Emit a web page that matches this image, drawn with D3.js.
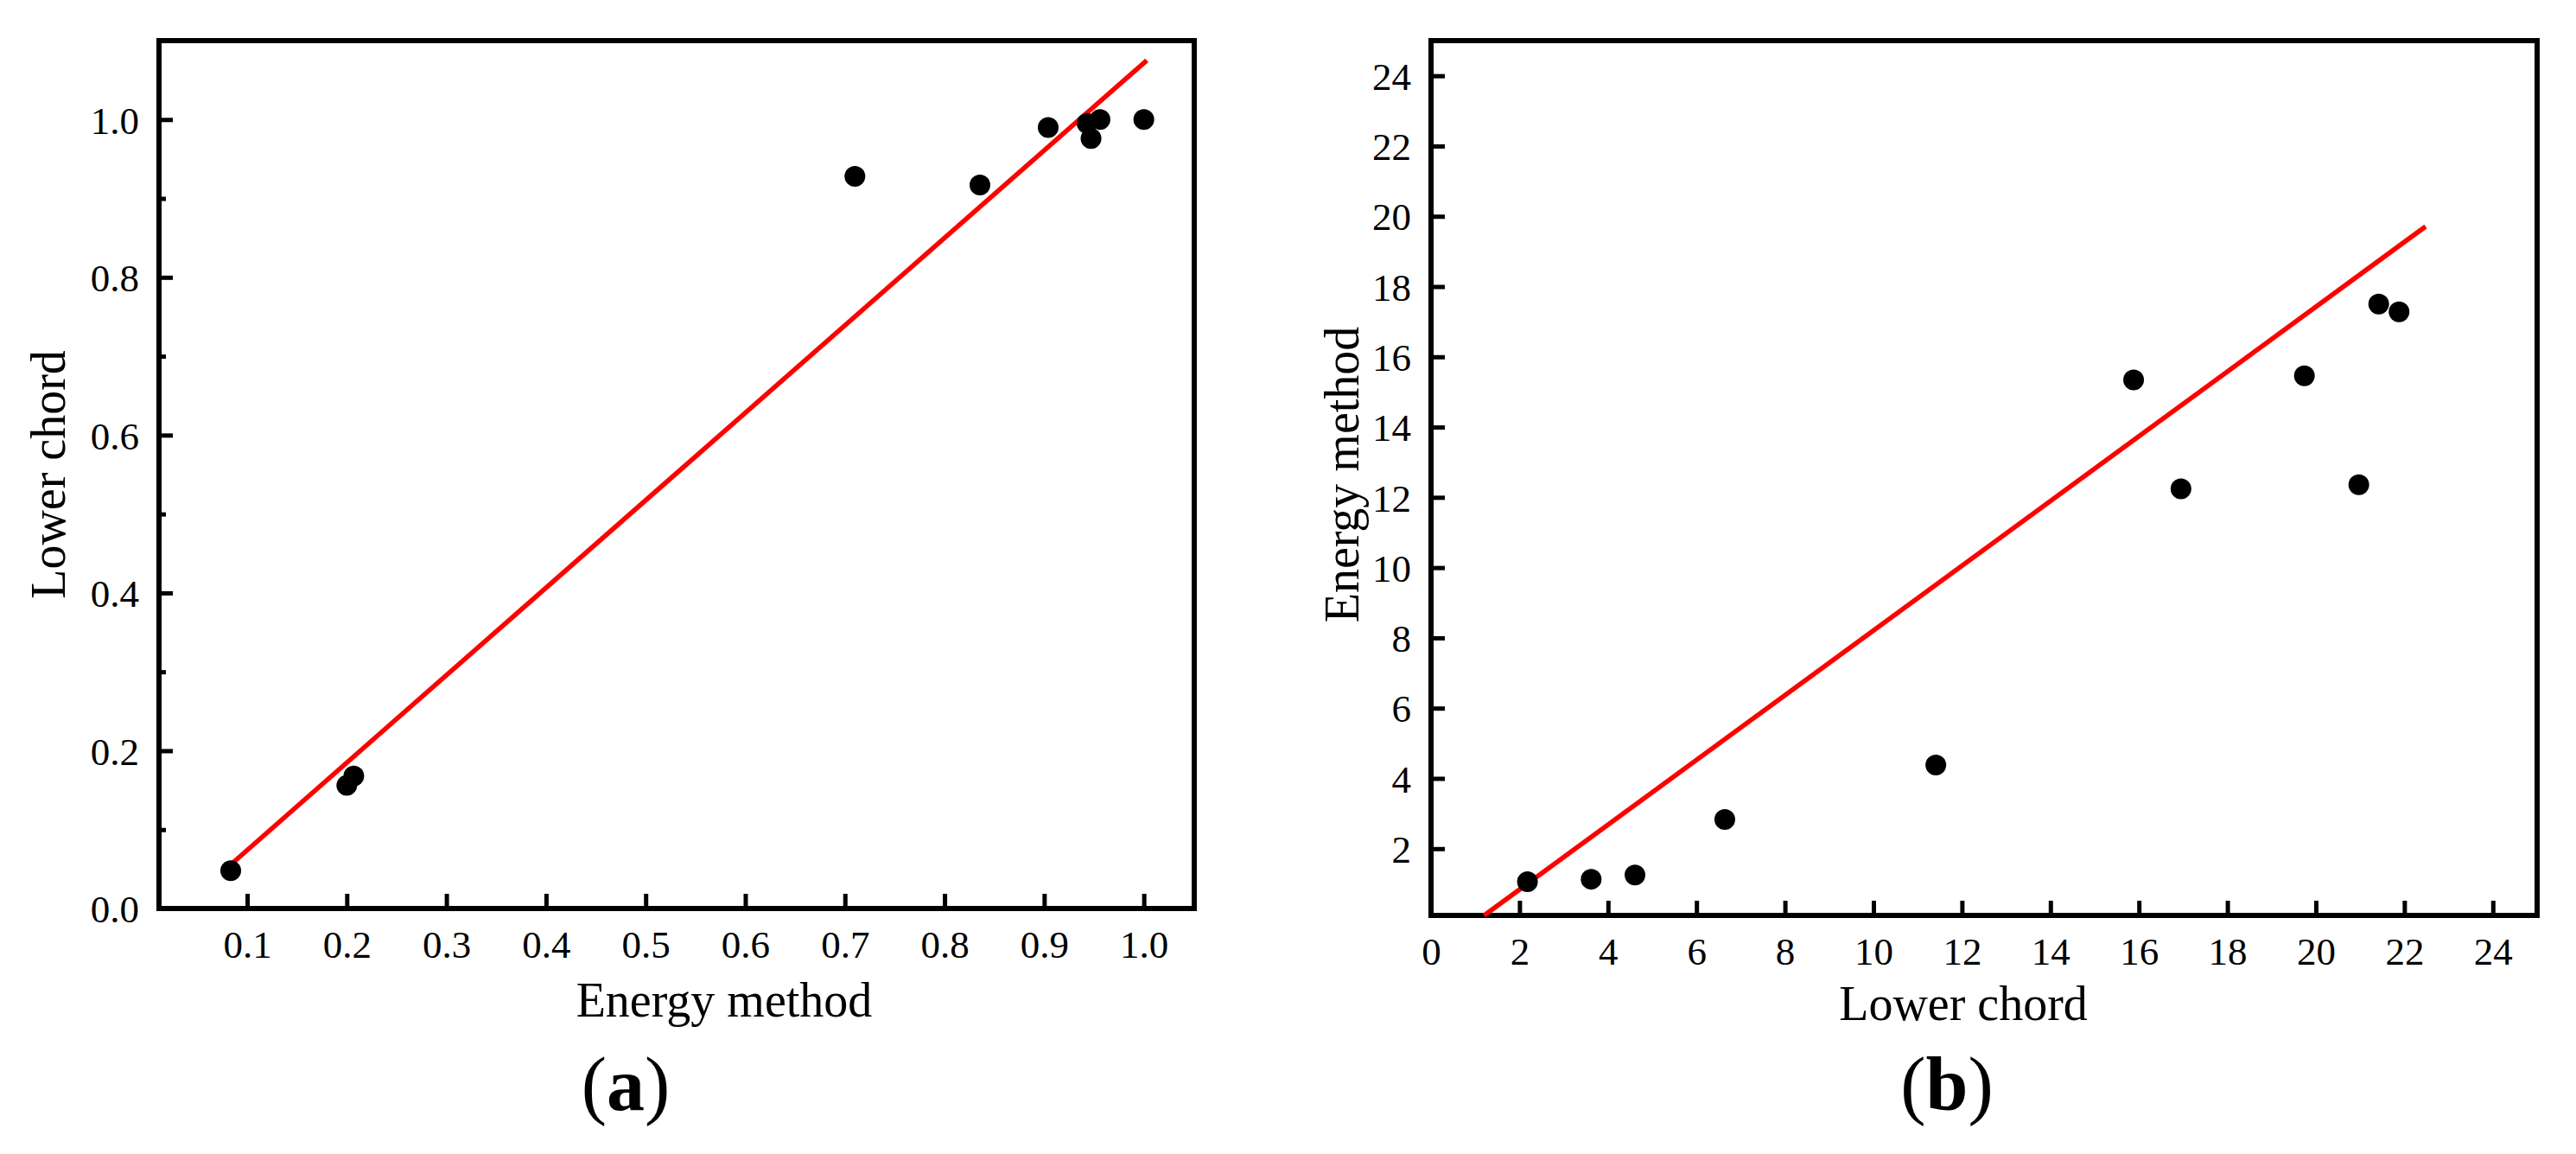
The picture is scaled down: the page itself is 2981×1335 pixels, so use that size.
<!DOCTYPE html>
<html>
<head>
<meta charset="utf-8">
<script src="https://cdn.jsdelivr.net/npm/d3@7"></script>
<style>
  html, body { margin: 0; padding: 0; background: #fff; }
  svg { display: block; }
  text { font-family: "Liberation Serif", "Times New Roman", serif; fill: #000; }
</style>
</head>
<body>
<svg id="chart" width="2981" height="1335"></svg>
<script>
// ---------- Data: panel (a) ----------
const aEnergy = [0.0835, 0.200, 0.207, 0.710, 0.8355, 0.904, 0.943, 0.947, 0.956, 1.000];
const aLower  = [0.048, 0.156, 0.168, 0.928, 0.917, 0.990, 0.995, 0.976, 1.000, 1.000];
const aFitX = [0.082, 1.003];
const aFitY = [0.054, 1.075];
const aXTicks = [0.1, 0.2, 0.3, 0.4, 0.5, 0.6, 0.7, 0.8, 0.9, 1.0];
const aYTicks = [0.0, 0.2, 0.4, 0.6, 0.8, 1.0];
const aYMinor = [0.1, 0.3, 0.5, 0.7, 0.9];

// ---------- Data: panel (b) ----------
const bLower  = [2.18, 3.62, 4.61, 6.64, 11.41, 15.88, 16.95, 19.74, 20.97, 21.42, 21.88];
const bEnergy = [1.06, 1.13, 1.25, 2.83, 4.38, 15.34, 12.24, 15.46, 12.36, 17.50, 17.28];
const bFitX = [1.2, 22.48];
const bFitY = [0.1, 19.71];
const bXTicks = [0, 2, 4, 6, 8, 10, 12, 14, 16, 18, 20, 22, 24];
const bYTicks = [2, 4, 6, 8, 10, 12, 14, 16, 18, 20, 22, 24];

const svg = d3.select("#chart");
const TICKFONT = 45, TITLEFONT = 56;

function panel(cfg) {
  const g = svg.append("g");
  const x = cfg.x, y = cfg.y;
  const [x0, x1] = x.range();
  const [y0, y1] = y.range(); // y0 bottom, y1 top

  // x axis (inward ticks)
  const xAxis = d3.axisBottom(x).tickValues(cfg.xTicks).tickSize(-17).tickSizeOuter(0)
    .tickFormat(cfg.xFmt);
  const gx = g.append("g").attr("transform", `translate(0,${y0})`).call(xAxis);
  gx.select(".domain").remove();
  gx.selectAll(".tick line").attr("stroke", "#000").attr("stroke-width", 5);
  gx.selectAll(".tick text").attr("y", 57).attr("dy", null)
    .style("font-size", TICKFONT + "px").style("font-family", "Liberation Serif");

  // y axis
  const yAxis = d3.axisLeft(y).tickValues(cfg.yTicks).tickSize(-16).tickSizeOuter(0)
    .tickFormat(cfg.yFmt);
  const gy = g.append("g").attr("transform", `translate(${x0},0)`).call(yAxis);
  gy.select(".domain").remove();
  gy.selectAll(".tick line").attr("stroke", "#000").attr("stroke-width", 5);
  gy.selectAll(".tick text").attr("x", -23).attr("dy", "0.35em")
    .style("font-size", TICKFONT + "px").style("font-family", "Liberation Serif");

  if (cfg.yMinor) {
    const gm = g.append("g").attr("transform", `translate(${x0},0)`)
      .call(d3.axisLeft(y).tickValues(cfg.yMinor).tickSize(-8).tickSizeOuter(0).tickFormat(""));
    gm.select(".domain").remove();
    gm.selectAll(".tick line").attr("stroke", "#000").attr("stroke-width", 5);
  }

  // frame
  g.append("rect")
    .attr("x", x0).attr("y", y1)
    .attr("width", x1 - x0).attr("height", y0 - y1)
    .attr("fill", "none").attr("stroke", "#000").attr("stroke-width", 6);

  // fit line
  const line = d3.line().x(d => x(d[0])).y(d => y(d[1]));
  g.append("path")
    .datum(d3.zip(cfg.fitX, cfg.fitY))
    .attr("d", line)
    .attr("fill", "none").attr("stroke", "#ff0000").attr("stroke-width", 5.5);

  // points
  g.append("g").selectAll("circle")
    .data(d3.zip(cfg.px, cfg.py))
    .join("circle")
    .attr("cx", d => x(d[0])).attr("cy", d => y(d[1]))
    .attr("r", 12).attr("fill", "#000");

  // axis titles
  g.append("text")
    .attr("x", cfg.xTitlePos[0]).attr("y", cfg.xTitlePos[1])
    .attr("text-anchor", "middle").style("font-size", TITLEFONT + "px")
    .text(cfg.xTitle);
  g.append("text")
    .attr("transform", `translate(${cfg.yTitlePos[0]},${cfg.yTitlePos[1]}) rotate(-90)`)
    .attr("text-anchor", "middle").style("font-size", TITLEFONT + "px")
    .text(cfg.yTitle);

  // panel label
  const lab = g.append("text")
    .attr("x", cfg.labelPos[0]).attr("y", cfg.labelPos[1])
    .attr("text-anchor", "middle").style("font-size", "88px");
  lab.append("tspan").text("(");
  lab.append("tspan").style("font-weight", "bold").text(cfg.label);
  lab.append("tspan").text(")");
}

panel({
  x: d3.scaleLinear().domain([0.0115, 1.0506]).range([184, 1382]),
  y: d3.scaleLinear().domain([0, 1.1]).range([1051, 47]),
  xTicks: aXTicks, yTicks: aYTicks, yMinor: aYMinor,
  xFmt: d3.format(".1f"), yFmt: d3.format(".1f"),
  fitX: aFitX, fitY: aFitY, px: aEnergy, py: aLower,
  xTitle: "Energy method", xTitlePos: [838, 1176],
  yTitle: "Lower chord", yTitlePos: [75, 549],
  label: "a", labelPos: [724, 1284]
});

panel({
  x: d3.scaleLinear().domain([0, 25]).range([1656, 2936]),
  y: d3.scaleLinear().domain([0.1, 25]).range([1059, 47]),
  xTicks: bXTicks, yTicks: bYTicks, yMinor: null,
  xFmt: d3.format("d"), yFmt: d3.format("d"),
  fitX: bFitX, fitY: bFitY, px: bLower, py: bEnergy,
  xTitle: "Lower chord", xTitlePos: [2272, 1180],
  yTitle: "Energy method", yTitlePos: [1572, 549],
  label: "b", labelPos: [2253, 1284]
});
</script>
</body>
</html>
